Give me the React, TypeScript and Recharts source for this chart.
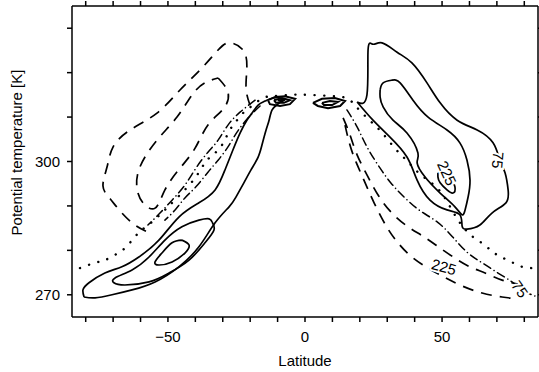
import { ComposedChart, Line, Scatter, XAxis, YAxis } from 'recharts';

type Pt = [number, number]; // [latitude, potential temperature]

const LAT_TICKS = [-80, -70, -60, -50, -40, -30, -20, -10, 0, 10, 20, 30, 40, 50, 60, 70, 80];
const LAT_LABELED = [-50, 0, 50];
const THETA_TICKS = [270, 280, 290, 300, 310, 320, 330];
const THETA_LABELED = [270, 300];

// southern hemisphere, solid contours
const SH_75: Pt[] = [
  [-80.6, 269.5], [-81.0, 271.1], [-78.8, 272.7], [-73.0, 274.9], [-66.8, 276.3], [-60.6, 278.5],
  [-53.3, 282.3], [-46.0, 287.5], [-38.7, 290.7], [-32.8, 293.6], [-29.2, 298.1], [-26.3, 302.6],
  [-23.7, 306.4], [-21.2, 309.3], [-19.3, 310.9], [-17.1, 312.7], [-14.6, 313.6], [-11.7, 314.3],
  [-8.4, 314.1], [-9.9, 312.9], [-12.0, 311.6], [-13.1, 309.3], [-14.2, 307.1], [-15.7, 303.7],
  [-17.1, 301.0], [-19.7, 298.1], [-22.3, 295.2], [-25.2, 292.0], [-27.7, 289.8], [-32.8, 286.2],
  [-38.7, 280.8], [-46.0, 276.3], [-54.7, 272.9], [-63.1, 271.1], [-70.4, 270.0], [-76.6, 269.3],
  [-80.6, 269.5],
];
const SH_150: Pt[] = [
  [-33.9, 286.4], [-33.2, 284.6], [-36.5, 281.7], [-42.3, 277.8], [-49.6, 274.9], [-56.9, 272.9],
  [-65.7, 272.2], [-69.7, 272.7], [-69.3, 273.8], [-63.1, 275.6], [-56.9, 278.5], [-51.1, 282.3],
  [-44.9, 285.3], [-38.7, 286.8], [-35.0, 287.1], [-33.9, 286.4],
];
const SH_225: Pt[] = [
  [-44.9, 282.3], [-42.3, 281.2], [-43.8, 279.4], [-48.5, 277.4], [-53.3, 276.7], [-54.7, 277.4],
  [-52.2, 279.4], [-48.5, 281.7], [-44.9, 282.3],
];

// northern hemisphere, solid contours
const NH_75: Pt[] = [
  [19.0, 313.4], [22.6, 315.0], [23.0, 325.1], [24.8, 326.4], [28.1, 326.7], [33.6, 324.6],
  [39.0, 322.2], [44.5, 317.7], [49.3, 313.2], [55.5, 309.3], [62.8, 307.1], [68.6, 304.2],
  [71.1, 300.3], [73.0, 297.4], [74.1, 293.6], [73.3, 290.7], [68.2, 288.4], [63.8, 285.7],
  [59.1, 284.8], [57.3, 285.5], [56.5, 288.0], [51.8, 289.1], [45.6, 291.3], [40.9, 295.8],
  [37.2, 301.0], [31.0, 305.5], [24.8, 309.3], [19.0, 313.4],
];
const NH_150: Pt[] = [
  [27.4, 316.1], [28.5, 317.7], [31.7, 318.3], [34.7, 317.7], [39.4, 313.8], [44.9, 310.0],
  [51.8, 307.1], [56.5, 304.2], [59.1, 300.3], [60.2, 295.8], [59.5, 292.0], [58.4, 289.1],
  [57.3, 288.0], [54.7, 289.8], [49.3, 292.9], [43.8, 296.5], [40.9, 299.7], [41.2, 301.9],
  [37.2, 306.4], [32.1, 309.3], [28.5, 312.3], [27.4, 314.5], [27.4, 316.1],
];
const NH_225: Pt[] = [
  [48.5, 297.4], [50.3, 297.6], [52.9, 296.5], [54.7, 294.3], [54.0, 292.9], [51.8, 293.6],
  [49.3, 295.2], [48.5, 296.5], [48.5, 297.4],
];

// zero line
const ZERO: Pt[] = [
  [-82.1, 276.0], [-76.6, 277.2], [-73.0, 277.8], [-69.3, 279.0], [-65.7, 280.5], [-62.4, 282.8],
  [-59.5, 284.6], [-55.8, 286.4], [-51.1, 289.1], [-45.6, 292.5], [-40.1, 296.3], [-36.5, 299.7],
  [-33.6, 301.5], [-30.3, 303.7], [-27.4, 307.1], [-24.8, 309.3], [-22.6, 310.9], [-19.0, 312.7],
  [-15.3, 314.3], [-11.7, 314.7], [-5.5, 315.0], [1.8, 315.0], [10.2, 314.7], [13.9, 314.5],
  [16.4, 313.8], [18.6, 312.4], [23.0, 309.6], [27.8, 306.7], [32.9, 302.9], [37.6, 299.9],
  [42.3, 297.0], [48.6, 293.8], [53.3, 289.4], [57.0, 285.8], [60.9, 283.2], [64.9, 281.5],
  [68.6, 279.6], [72.2, 278.3], [75.9, 277.2], [79.2, 276.3], [82.8, 276.0],
];

// southern hemisphere, negative contours
const SH_NEG_OUTER: Pt[] = [
  [-20.1, 312.7], [-21.5, 316.5], [-21.2, 321.3], [-22.6, 325.1], [-27.4, 326.7], [-31.7, 325.1],
  [-38.3, 320.6], [-45.6, 316.1], [-54.0, 310.9], [-63.8, 307.1], [-70.0, 303.3], [-72.2, 298.8],
  [-73.7, 294.5], [-71.1, 291.6], [-66.8, 288.4], [-62.0, 285.7], [-57.3, 284.1],
];
const SH_NEG_INNER: Pt[] = [
  [-31.7, 318.8], [-28.1, 315.6], [-29.6, 312.0], [-35.4, 308.2], [-40.1, 303.0], [-45.6, 298.5],
  [-51.1, 293.6], [-54.7, 289.5], [-59.1, 290.7], [-61.3, 294.0], [-60.2, 298.8], [-54.0, 304.8],
  [-46.7, 310.0], [-41.2, 315.0], [-36.5, 317.7], [-31.7, 318.8],
];
const SH_DD1: Pt[] = [
  [-18.2, 313.8], [-23.7, 311.1], [-28.1, 308.2], [-31.7, 304.8], [-35.4, 302.1], [-39.8, 298.5],
  [-43.8, 294.7], [-48.5, 291.3], [-52.9, 288.4], [-57.3, 285.7],
];
const SH_DD2: Pt[] = [
  [-16.4, 312.5], [-20.8, 309.8], [-24.8, 306.6], [-28.1, 303.3], [-31.7, 300.3], [-35.4, 297.6],
  [-39.8, 294.3], [-43.8, 291.8], [-47.4, 289.1], [-51.1, 286.8],
];

// northern hemisphere, negative contours
const NH_DD: Pt[] = [
  [15.3, 311.6], [19.0, 307.8], [22.6, 303.3], [27.4, 298.5], [31.7, 294.9], [36.5, 291.8],
  [42.0, 288.9], [48.2, 286.4], [53.6, 283.2], [59.1, 279.6], [64.6, 277.2], [70.4, 274.9],
  [75.5, 272.9], [79.2, 271.1], [83.9, 269.7],
];
const NH_NEG_MID: Pt[] = [
  [13.9, 309.8], [16.4, 306.0], [19.0, 301.5], [22.6, 297.0], [26.6, 292.5], [31.7, 288.4],
  [37.6, 285.3], [43.0, 283.2], [48.2, 281.0], [53.6, 278.7], [59.5, 276.5], [65.7, 274.9],
  [71.9, 273.3], [77.7, 272.4],
];
const NH_NEG_OUTER: Pt[] = [
  [14.6, 308.2], [16.4, 303.7], [18.6, 299.9], [21.5, 295.8], [25.2, 290.7], [29.6, 285.5],
  [33.9, 281.7], [39.0, 278.5], [44.9, 276.0], [50.7, 274.0], [57.3, 272.0], [64.6, 270.4],
  [71.9, 269.5], [77.7, 269.1],
];

// tight cells near the tropopause
const KNOT_S1: Pt[] = [
  [-13.5, 313.8], [-10.9, 314.5], [-7.3, 314.7], [-3.6, 314.1], [-5.5, 312.9], [-9.1, 312.5],
  [-12.8, 312.9], [-13.5, 313.8],
];
const KNOT_S2: Pt[] = [[-11.3, 313.8], [-8.4, 314.3], [-5.5, 313.8], [-7.7, 313.2], [-10.6, 313.2], [-11.3, 313.8]];
const KNOT_S3: Pt[] = [[-9.9, 313.8], [-7.3, 313.9], [-8.4, 313.5], [-9.9, 313.8]];
const KNOT_N1: Pt[] = [
  [2.9, 313.2], [6.2, 314.1], [10.9, 314.3], [14.6, 313.6], [12.8, 312.5], [8.4, 312.0],
  [4.7, 312.5], [2.9, 313.2],
];
const KNOT_N2: Pt[] = [[6.2, 313.2], [9.1, 313.6], [12.0, 313.4], [9.9, 312.7], [6.9, 312.7], [6.2, 313.2]];

// contour labels
const LABEL_TEXT = ['75', '225', '225', '75'];
const LABEL_LAT = [70.4, 51.8, 50.7, 78.4];
const LABEL_THETA = [300.3, 297.4, 276.3, 271.3];
const LABEL_ANGLE = [95, 65, 15, 55];

type Kind = 'solid' | 'dash' | 'dotdash' | 'dot' | 'knot';

const CONTOURS: { id: string; pts: Pt[]; kind: Kind; curve: 'natural' | 'linear' }[] = [
  { id: 'sh75', pts: SH_75, kind: 'solid', curve: 'natural' },
  { id: 'sh150', pts: SH_150, kind: 'solid', curve: 'natural' },
  { id: 'sh225', pts: SH_225, kind: 'solid', curve: 'natural' },
  { id: 'nh75', pts: NH_75, kind: 'solid', curve: 'natural' },
  { id: 'nh150', pts: NH_150, kind: 'solid', curve: 'natural' },
  { id: 'nh225', pts: NH_225, kind: 'solid', curve: 'natural' },
  { id: 'zero', pts: ZERO, kind: 'dot', curve: 'natural' },
  { id: 'shNegOuter', pts: SH_NEG_OUTER, kind: 'dash', curve: 'natural' },
  { id: 'shNegInner', pts: SH_NEG_INNER, kind: 'dash', curve: 'natural' },
  { id: 'shDD1', pts: SH_DD1, kind: 'dotdash', curve: 'natural' },
  { id: 'shDD2', pts: SH_DD2, kind: 'dotdash', curve: 'natural' },
  { id: 'nhDD', pts: NH_DD, kind: 'dotdash', curve: 'natural' },
  { id: 'nhNegMid', pts: NH_NEG_MID, kind: 'dash', curve: 'natural' },
  { id: 'nhNegOuter', pts: NH_NEG_OUTER, kind: 'dash', curve: 'natural' },
  { id: 'knotS1', pts: KNOT_S1, kind: 'knot', curve: 'linear' },
  { id: 'knotS2', pts: KNOT_S2, kind: 'knot', curve: 'linear' },
  { id: 'knotS3', pts: KNOT_S3, kind: 'knot', curve: 'linear' },
  { id: 'knotN1', pts: KNOT_N1, kind: 'knot', curve: 'linear' },
  { id: 'knotN2', pts: KNOT_N2, kind: 'knot', curve: 'linear' },
];

const DASH: Record<Kind, string | undefined> = {
  solid: undefined,
  knot: undefined,
  dash: '11 8',
  dotdash: '8 4 0.1 4',
  dot: '0.1 9.5',
};

const WIDTH: Record<Kind, number> = { solid: 1.7, knot: 2, dash: 1.7, dotdash: 1.5, dot: 2.4 };

const toPts = (a: Pt[]) => a.map(([lat, th]) => ({ lat, th }));

const labelData = LABEL_TEXT.map((text, i) => ({ lat: LABEL_LAT[i], th: LABEL_THETA[i], text, angle: LABEL_ANGLE[i] }));

const fmtLat = (v: number) => (LAT_LABELED.includes(v) ? (v < 0 ? `\u2212${-v}` : `${v}`) : '');
const fmtTheta = (v: number) => (THETA_LABELED.includes(v) ? `${v}` : '');

const ContourLabel = (props: any) => {
  const { cx, cy, payload } = props;
  return (
    <text
      x={cx}
      y={cy}
      transform={`rotate(${payload.angle} ${cx} ${cy})`}
      textAnchor="middle"
      dominantBaseline="central"
      fontSize={15}
      fill="#000"
      stroke="#fff"
      strokeWidth={4}
      paintOrder="stroke"
    >
      {payload.text}
    </text>
  );
};

const YTitle = (props: any) => {
  const { x, y, height } = props.viewBox;
  const cx = x + 16;
  const cy = y + height / 2 - 9;
  return (
    <text x={cx} y={cy} transform={`rotate(-90 ${cx} ${cy})`} textAnchor="middle" dominantBaseline="central" fontSize={15} fill="#000">
      Potential temperature [K]
    </text>
  );
};

export default function App() {
  return (
    <div style={{ position: 'absolute', left: 0, top: 0, fontFamily: '"Liberation Sans", Arial, sans-serif', background: '#fff' }}>
      <ComposedChart width={539} height={372} margin={{ top: 0, right: 0, bottom: 0, left: 0 }}>
        <XAxis
          xAxisId="b"
          type="number"
          dataKey="lat"
          domain={[-85, 85]}
          allowDataOverflow
          ticks={LAT_TICKS}
          interval={0}
          tickFormatter={fmtLat}
          height={55}
          tickSize={5}
          tickMargin={9}
          stroke="#000"
          strokeWidth={1.5}
          tick={{ fill: '#000', fontSize: 15 }}
          label={{ value: 'Latitude', position: 'insideBottom', offset: 6, fill: '#000', fontSize: 15 }}
        />
        <XAxis
          xAxisId="t"
          orientation="top"
          type="number"
          dataKey="lat"
          domain={[-85, 85]}
          allowDataOverflow
          ticks={LAT_TICKS}
          interval={0}
          tickFormatter={() => ''}
          height={6}
          tickSize={5}
          stroke="#000"
          strokeWidth={1.5}
        />
        <YAxis
          yAxisId="l"
          type="number"
          dataKey="th"
          domain={[265, 335]}
          allowDataOverflow
          ticks={THETA_TICKS}
          interval={0}
          tickFormatter={fmtTheta}
          width={72}
          tickSize={5}
          tickMargin={7}
          stroke="#000"
          strokeWidth={1.5}
          tick={{ fill: '#000', fontSize: 15 }}
          label={<YTitle />}
        />
        <YAxis
          yAxisId="r"
          orientation="right"
          type="number"
          dataKey="th"
          domain={[265, 335]}
          allowDataOverflow
          ticks={THETA_TICKS}
          interval={0}
          tickFormatter={() => ''}
          width={1}
          tickSize={5}
          stroke="#000"
          strokeWidth={1.5}
        />
        {CONTOURS.map((c) => (
          <Line
            key={c.id}
            data={toPts(c.pts)}
            dataKey="th"
            xAxisId="b"
            yAxisId="l"
            type={c.curve}
            stroke="#000"
            strokeWidth={WIDTH[c.kind]}
            strokeDasharray={DASH[c.kind]}
            strokeLinecap={c.kind === 'dot' || c.kind === 'dotdash' ? 'round' : 'butt'}
            dot={false}
            activeDot={false}
            isAnimationActive={false}
          />
        ))}
        <Scatter
          data={labelData}
          dataKey="th"
          xAxisId="b"
          yAxisId="l"
          shape={ContourLabel}
          isAnimationActive={false}
        />
      </ComposedChart>
    </div>
  );
}
